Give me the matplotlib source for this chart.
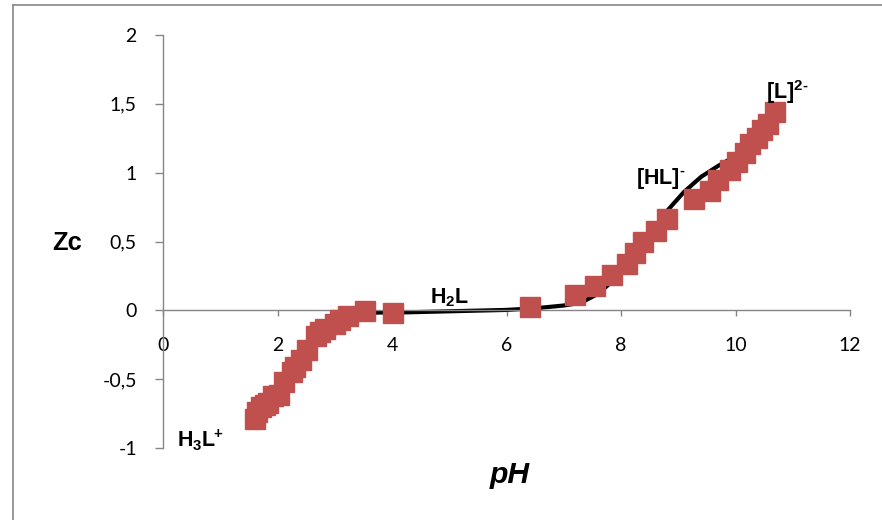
import matplotlib
matplotlib.use('Agg')
import matplotlib.pyplot as plt
from matplotlib.lines import Line2D

plt.rcParams['mathtext.fontset'] = 'custom'
plt.rcParams['mathtext.rm'] = 'Liberation Sans'
plt.rcParams['mathtext.bf'] = 'Liberation Sans:bold'
plt.rcParams['mathtext.it'] = 'Liberation Sans:italic'

# measured points (pH, Zc)
ph_points = [1.61, 1.65, 1.71, 1.79, 1.84, 1.93, 2.02, 2.12, 2.25, 2.31, 2.41,
             2.51, 2.67, 2.74, 2.83, 3.00, 3.09, 3.23, 3.53, 4.01, 6.41, 7.20,
             7.55, 7.85, 8.10, 8.24, 8.39, 8.62, 8.80, 9.27, 9.55, 9.70, 9.90,
             10.02, 10.17, 10.25, 10.37, 10.46, 10.56, 10.69]
zc_points = [-0.787, -0.738, -0.702, -0.69, -0.67, -0.62, -0.617, -0.52, -0.448,
             -0.41, -0.358, -0.29, -0.19, -0.157, -0.133, -0.097, -0.073, -0.044,
             -0.005, -0.017, 0.024, 0.109, 0.18, 0.26, 0.34, 0.42, 0.50, 0.575,
             0.66, 0.81, 0.87, 0.95, 1.017, 1.077, 1.14, 1.21, 1.25, 1.31, 1.35,
             1.44]

# calculated curve
ph_curve = [1.6, 1.8, 2.0, 2.2, 2.4, 2.6, 2.8, 3.0, 3.2, 3.5, 3.8, 4.2, 5.0,
            6.0, 6.5, 7.0, 7.3, 7.6, 7.9, 8.2, 8.5, 8.8, 9.1, 9.4, 9.7, 10.0,
            10.3, 10.7]
zc_curve = [-0.79, -0.70, -0.60, -0.49, -0.37, -0.24, -0.14, -0.08, -0.04,
            -0.018, -0.016, -0.015, -0.007, 0.003, 0.015, 0.035, 0.055, 0.12,
            0.23, 0.38, 0.55, 0.72, 0.86, 0.97, 1.05, 1.12, 1.24, 1.43]

x_ticks = [0, 2, 4, 6, 8, 10, 12]
y_ticks = [-1, -0.5, 0, 0.5, 1, 1.5, 2]
y_tick_labels = ['-1', '-0,5', '0', '0,5', '1', '1,5', '2']

species = ['$\\mathbf{H_3L^{\\!\\!+}}$', '$\\mathbf{H_2L}$',
           '$\\mathbf{[HL]^{\u2010}}$', '$\\mathbf{[L]^{2\u2010}}$']
species_x = [0.25, 4.66, 8.27, 10.54]
species_y = [-0.995, 0.049, 0.92, 1.537]

fig = plt.figure(figsize=(8.82, 5.2), dpi=100)
ax = fig.add_axes([163 / 882, 72 / 520, 687 / 882, 413 / 520])

ax.plot(ph_curve, zc_curve, color='black', lw=3, zorder=2)
ax.plot(ph_points, zc_points, linestyle='', marker='s', markersize=14.4,
        color='#C0504D', mec='#C0504D', zorder=3)

ax.set_xlim(0, 12)
ax.set_ylim(-1, 2)
ax.spines['top'].set_visible(False)
ax.spines['right'].set_visible(False)
ax.spines['bottom'].set_position(('data', 0))
for sp in ('left', 'bottom'):
    ax.spines[sp].set_color('#868686')
    ax.spines[sp].set_linewidth(1)

ax.set_xticks(x_ticks)
ax.set_xticklabels([str(t) for t in x_ticks])
ax.set_yticks(y_ticks)
ax.set_yticklabels(y_tick_labels)
ax.tick_params(axis='x', direction='out', length=4.5, width=1,
               color='#868686', pad=15)
ax.tick_params(axis='y', direction='out', length=5.8, width=1,
               color='#868686', pad=13)
for lab in ax.get_xticklabels() + ax.get_yticklabels():
    lab.set_fontfamily('Lato')
    lab.set_fontsize(14)

for txt, xx, yy in zip(species, species_x, species_y):
    ax.text(xx, yy, txt, fontsize=15.5, ha='left', va='baseline', zorder=4)

fig.text(52.7 / 882, 270 / 520, 'Zc', fontsize=18.4, fontweight='bold',
         family='Liberation Sans', ha='left', va='baseline')
fig.text(510 / 882, 36.7 / 520, 'pH', fontsize=21.7, fontweight='bold',
         fontstyle='italic', family='Liberation Sans', ha='center',
         va='baseline')

# chart area border
fig.add_artist(Line2D([13 / 882, 13 / 882], [0, 1 - 5 / 520],
                      color='#868686', lw=1.2))
fig.add_artist(Line2D([13 / 882, 1], [1 - 5 / 520, 1 - 5 / 520],
                      color='#868686', lw=1.2))

fig.savefig('out.png', dpi=100)
